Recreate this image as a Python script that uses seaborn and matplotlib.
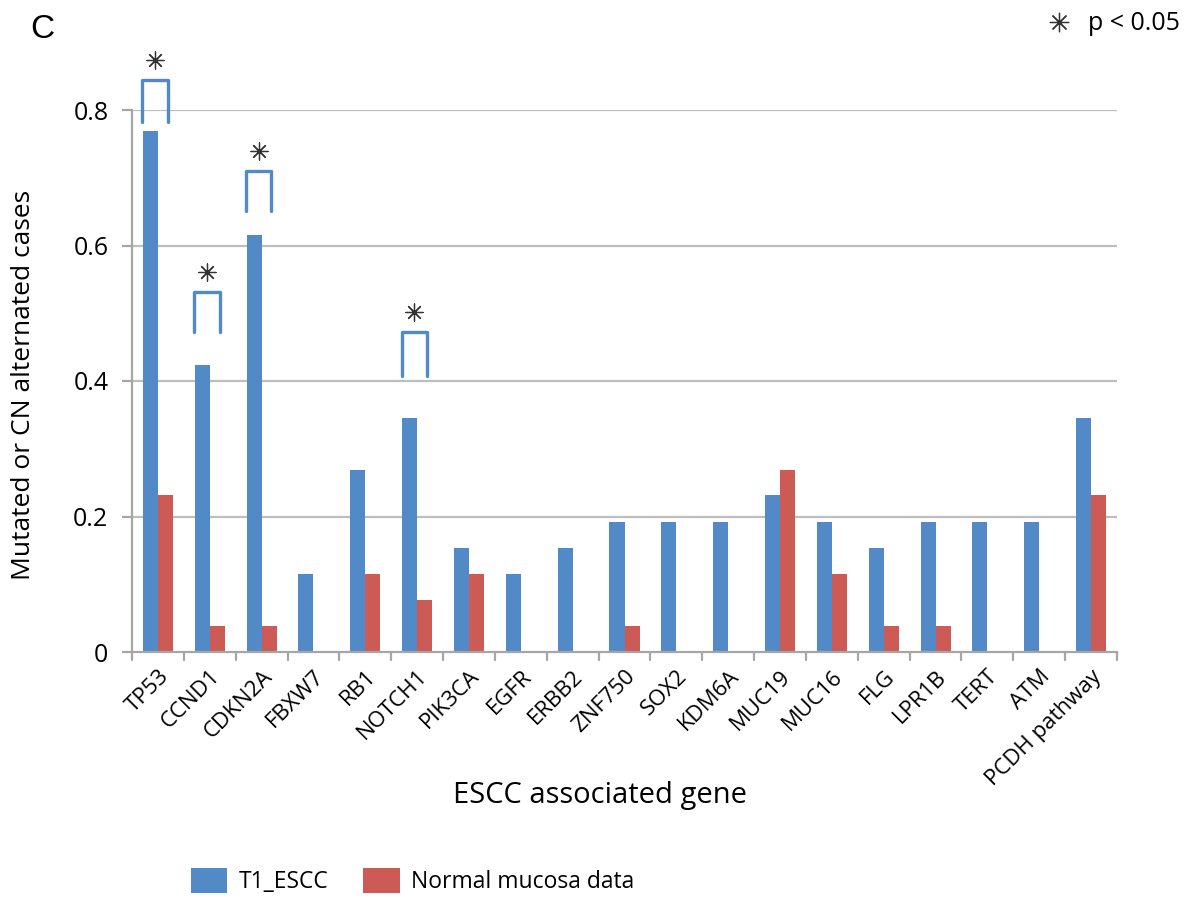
import numpy as np
import pandas as pd
import matplotlib
matplotlib.use("Agg")
import matplotlib.pyplot as plt
import seaborn as sns

genes = ["TP53", "CCND1", "CDKN2A", "FBXW7", "RB1", "NOTCH1", "PIK3CA", "EGFR",
         "ERBB2", "ZNF750", "SOX2", "KDM6A", "MUC19", "MUC16", "FLG", "LPR1B",
         "TERT", "ATM", "PCDH pathway"]
t1_escc = [0.769, 0.423, 0.615, 0.115, 0.269, 0.346, 0.154, 0.115, 0.154, 0.192,
           0.192, 0.192, 0.231, 0.192, 0.154, 0.192, 0.192, 0.192, 0.346]
normal = [0.231, 0.038, 0.038, 0.0, 0.115, 0.077, 0.115, 0.0, 0.0, 0.038,
          0.0, 0.0, 0.269, 0.115, 0.038, 0.038, 0.0, 0.0, 0.231]
series_names = ["T1_ESCC", "Normal mucosa data"]
sig_genes = ["TP53", "CCND1", "CDKN2A", "NOTCH1"]
sig_bracket_low = [0.782, 0.472, 0.651, 0.408]
sig_bracket_high = [0.844, 0.531, 0.710, 0.472]
yticks = [0, 0.2, 0.4, 0.6, 0.8]
ytick_labels = ["0", "0.2", "0.4", "0.6", "0.8"]

df = pd.DataFrame({
    "gene": genes * 2,
    "value": t1_escc + normal,
    "series": [series_names[0]] * len(genes) + [series_names[1]] * len(genes),
})

sns.set_theme(style="white")
plt.rcParams["font.family"] = ["Open Sans", "DejaVu Sans"]
plt.rcParams["text.color"] = "black"
plt.rcParams["axes.labelcolor"] = "black"
plt.rcParams["xtick.color"] = "black"
plt.rcParams["ytick.color"] = "black"

blue = "#5289C7"
red = "#CC5B55"
grid_c = "#BDBDBD"
axis_c = "#A6A6A6"

fig = plt.figure(figsize=(11.93, 8.99), dpi=100)
ax = fig.add_axes([132 / 1193, 1 - 652 / 899, (1117 - 132) / 1193, (652 - 110) / 899])

sns.barplot(data=df, x="gene", y="value", hue="series", order=genes,
            hue_order=series_names, palette=[blue, red], width=0.58,
            saturation=1, ax=ax, legend=True, linewidth=0)

ax.set_xlim(-0.5, len(genes) - 0.5)
ax.set_ylim(0, 0.8)
ax.set_yticks(yticks)
ax.set_yticklabels(ytick_labels)
for y in yticks[1:]:
    ax.axhline(y, color=grid_c, lw=1.6, zorder=0)

# category boundary ticks (Excel style)
ax.set_xticks(np.arange(len(genes)))
ax.set_xticklabels(genes, rotation=45, ha="right", rotation_mode="anchor", fontsize=16)
ax.tick_params(axis="x", length=0, pad=10)
for b in np.arange(-0.5, len(genes), 1.0):
    ax.plot([b, b], [0, -0.012], color=axis_c, lw=1.6, clip_on=False,
            transform=ax.transData)
ax.tick_params(axis="y", length=7, width=1.6, color=axis_c, labelsize=18, pad=10,
               direction="out", left=True)

for s in ["top", "right"]:
    ax.spines[s].set_visible(False)
for s in ["left", "bottom"]:
    ax.spines[s].set_color(axis_c)
    ax.spines[s].set_linewidth(1.6)

ax.set_xlabel("ESCC associated gene", fontsize=21)
ax.xaxis.set_label_coords((600 - 132) / (1117 - 132), -(795 - 652) / (652 - 110), transform=ax.transAxes)
ax.xaxis.label.set_va("center")
ax.set_ylabel("Mutated or CN alternated cases", fontsize=19)
ax.yaxis.set_label_coords(-(132 - 24) / (1117 - 132), (652 - 385) / (652 - 110), transform=ax.transAxes)
ax.yaxis.label.set_va("center")

# significance brackets
for g, lo, hi in zip(sig_genes, sig_bracket_low, sig_bracket_high):
    i = genes.index(g)
    x0, x1 = i - 0.30, i + 0.19
    ax.plot([x0, x0, x1, x1], [lo, hi, hi, lo], color=blue, lw=2.4,
            solid_joinstyle="round", clip_on=False, zorder=5)
    ax.scatter([(x0 + x1) / 2], [hi + 0.03], marker=(8, 2, 0), s=150,
               color="#333333", linewidths=0.9, clip_on=False, zorder=6)

# legend at bottom
handles, labels = ax.get_legend_handles_labels()
ax.legend_.remove()
fig.legend(handles, labels, loc="center left", bbox_to_anchor=(170 / 1193, 1 - 881 / 899),
           ncol=2, frameon=False, fontsize=16.5, handlelength=1.6, handleheight=1.3,
           columnspacing=1.5, handletextpad=0.5)

fig.text(30 / 1193, 1 - 30 / 899, "C", fontsize=24, ha="left", va="center",
         family="Liberation Sans")
fig.text(1088 / 1193, 1 - 23 / 899, "p < 0.05", fontsize=18, ha="left", va="center")
fig.add_artist(matplotlib.lines.Line2D([1059 / 1193], [1 - 22 / 899], marker=(8, 2, 0),
                                       markersize=14, color="#333333", mew=0.9,
                                       transform=fig.transFigure))

fig.savefig("out.png", dpi=100)
